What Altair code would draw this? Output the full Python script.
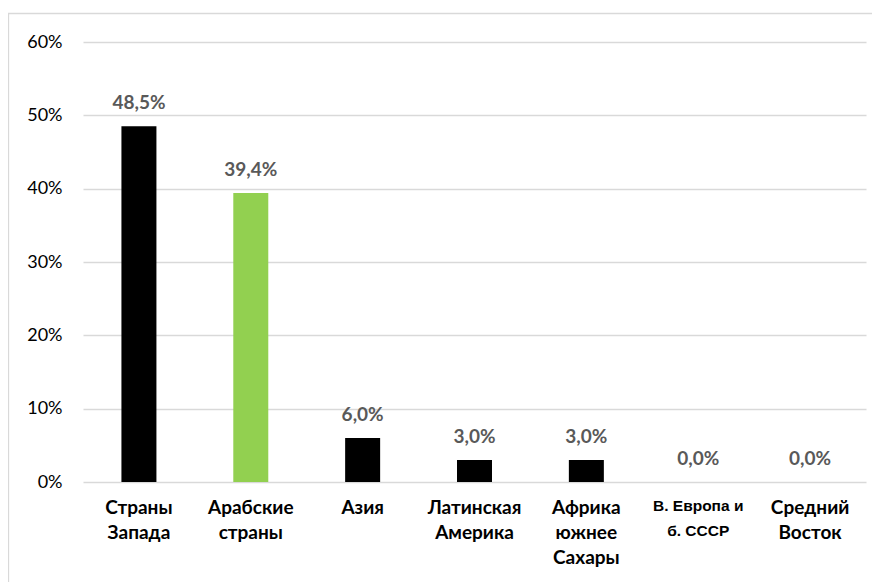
import altair as alt
import pandas as pd

categories = ["Страны\nЗапада", "Арабские\nстраны", "Азия", "Латинская\nАмерика",
              "Африка\nюжнее\nСахары", "В. Европа и\nб. СССР", "Средний\nВосток"]
values = [48.5, 39.4, 6.0, 3.0, 3.0, 0.0, 0.0]
colors = ["#000000", "#92D050", "#000000", "#000000", "#000000", "#000000", "#000000"]
y_ticks = [0, 10, 20, 30, 40, 50, 60]

df = pd.DataFrame({"cat": categories, "val": values, "col": colors})

x = alt.X("cat:N", sort=categories, title=None,
          scale=alt.Scale(paddingInner=0, paddingOuter=0),
          axis=alt.Axis(labelAngle=0, ticks=False, domain=False,
                        labelExpr="split(datum.value, '\\n')",
                        labelFont={"condition": {"test": "indexof(datum.value, 'СССР') >= 0", "value": "Liberation Sans"}, "value": "Lato"},
                        labelFontSize={"condition": {"test": "indexof(datum.value, 'СССР') >= 0", "value": 15.5}, "value": 19},
                        labelFontWeight="bold", labelColor="#000000",
                        labelLineHeight=25, labelPadding=16, labelBaseline="top",
                        labelLimit=0))
y = alt.Y("val:Q", title=None,
          scale=alt.Scale(domain=[0, 60], nice=False, zero=True),
          axis=alt.Axis(values=y_ticks, labelExpr="datum.value + '%'", ticks=False,
                        domain=False, grid=True, gridColor="#d9d9d9", gridWidth=1.3,
                        labelFont="Lato", labelFontSize=18, labelColor="#000000",
                        labelPadding=21))

bars = alt.Chart(df).mark_bar(size=35).encode(
    x=x, y=y, color=alt.Color("col:N", scale=None)
)

labels = alt.Chart(df).transform_calculate(
    lbl="replace(format(datum.val, '.1f'), '.', ',') + '%'"
).mark_text(font="Lato", fontSize=19, fontWeight="bold", color="#595959",
            baseline="alphabetic", dy=-17).encode(
    x=alt.X("cat:N", sort=categories), y="val:Q", text="lbl:N"
)

border = alt.Chart(pd.DataFrame({"a": [0]})).mark_rect(
    fill=None, stroke="#d9d9d9", strokeWidth=1.3
).encode(x=alt.value(-74.5), x2=alt.value(900), y=alt.value(-28.5), y2=alt.value(700))

chart = alt.layer(border, bars, labels).properties(
    width=783, height=440,
    autosize=alt.AutoSizeParams(type="none"),
    padding={"left": 75, "top": 34, "right": 6, "bottom": 100},
).configure_view(stroke=None)

chart.save("out.html", embed_options={"renderer": "svg", "actions": False})
